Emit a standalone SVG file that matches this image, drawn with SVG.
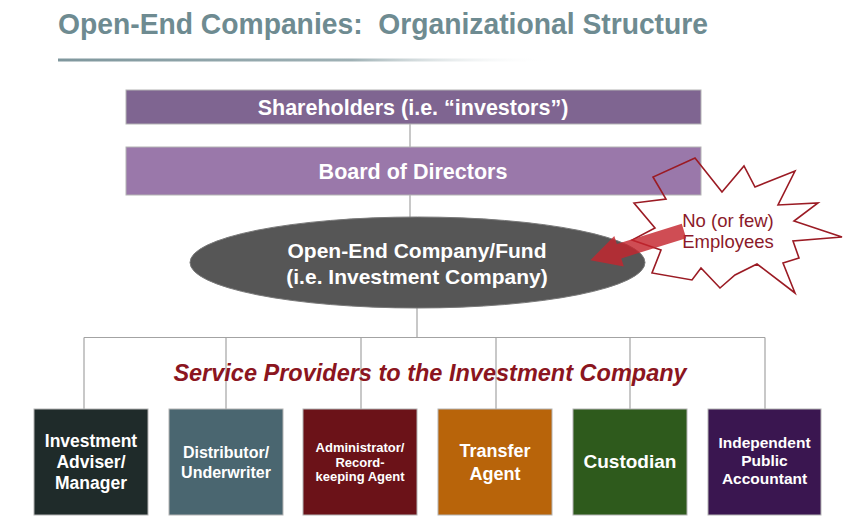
<svg xmlns="http://www.w3.org/2000/svg" width="848" height="529" viewBox="0 0 848 529">
<defs>
<linearGradient id="ul" x1="0" y1="0" x2="1" y2="0">
<stop offset="0" stop-color="#7f979d"/>
<stop offset="0.6" stop-color="#9fb1b5"/>
<stop offset="1" stop-color="#ffffff" stop-opacity="0"/>
</linearGradient>
<style>
text{font-family:"Liberation Sans",Arial,sans-serif;font-weight:bold;text-anchor:middle}
.w{fill:#ffffff}
.conn line{stroke:#a3a3a3;stroke-width:1.2}
.box{stroke:#b4b4b4;stroke-width:1}
.call{fill:#8b1a2a;font-weight:normal}
</style>
</defs>
<rect width="848" height="529" fill="#ffffff"/>
<g id="title">
<text x="58" y="34" style="text-anchor:start" font-size="30" fill="#6e8b91" textLength="650" lengthAdjust="spacingAndGlyphs">Open-End Companies:&#160; Organizational Structure</text>
<rect x="58" y="58.5" width="490" height="3" fill="url(#ul)"/>
</g>
<g class="conn" id="connectors">
<line x1="410" y1="124" x2="410" y2="147"/>
<line x1="410" y1="195" x2="410" y2="218"/>
<line x1="417" y1="308" x2="417" y2="337.5"/>
<line x1="84" y1="337.5" x2="765" y2="337.5"/>
<line x1="84" y1="337.5" x2="84" y2="409"/>
<line x1="226" y1="337.5" x2="226" y2="409"/>
<line x1="361" y1="337.5" x2="361" y2="409"/>
<line x1="496" y1="337.5" x2="496" y2="409"/>
<line x1="630" y1="337.5" x2="630" y2="409"/>
<line x1="765" y1="337.5" x2="765" y2="409"/>
</g>
<g id="shareholders">
<rect class="box" x="126" y="90" width="575" height="34" fill="#7f6591"/>
<text class="w" x="413" y="114.5" font-size="21.5">Shareholders (i.e. “investors”)</text>
</g>
<g id="board">
<rect class="box" x="126" y="147" width="575" height="48" fill="#9a78aa"/>
<text class="w" x="413" y="178.5" font-size="21.5">Board of Directors</text>
</g>
<g id="fund">
<ellipse cx="417.5" cy="262.5" rx="227.5" ry="45.5" fill="#565656" stroke="#7a7a7a" stroke-width="1"/>
<text class="w" x="417" y="258" font-size="21">Open-End Company/Fund</text>
<text class="w" x="417" y="284" font-size="21">(i.e. Investment Company)</text>
</g>
<g id="service-label">
<text x="430" y="381" font-size="23.5" font-style="italic" fill="#8b1520">Service Providers to the Investment Company</text>
</g>
<g id="adviser">
<rect class="box" x="34" y="409" width="114" height="106" fill="#1f2b2a"/>
<text class="w" x="91" y="447" font-size="17.5">Investment</text>
<text class="w" x="91" y="468" font-size="17.5">Adviser/</text>
<text class="w" x="91" y="489" font-size="17.5">Manager</text>
</g>
<g id="distributor">
<rect class="box" x="169" y="409" width="114" height="106" fill="#4a6670"/>
<text class="w" x="226" y="458" font-size="16">Distributor/</text>
<text class="w" x="226" y="478" font-size="16">Underwriter</text>
</g>
<g id="administrator">
<rect class="box" x="303" y="409" width="114" height="106" fill="#6b1218"/>
<text class="w" x="360" y="452" font-size="13">Administrator/</text>
<text class="w" x="360" y="466.5" font-size="13">Record-</text>
<text class="w" x="360" y="481" font-size="13">keeping Agent</text>
</g>
<g id="transfer">
<rect class="box" x="438" y="409" width="114" height="106" fill="#b8640a"/>
<text class="w" x="495" y="457" font-size="18">Transfer</text>
<text class="w" x="495" y="480" font-size="18">Agent</text>
</g>
<g id="custodian">
<rect class="box" x="573" y="409" width="114" height="106" fill="#2e5a1c"/>
<text class="w" x="630" y="468" font-size="19">Custodian</text>
</g>
<g id="accountant">
<rect class="box" x="708" y="409" width="113" height="106" fill="#3a1650"/>
<text class="w" x="764.5" y="448" font-size="15.5">Independent</text>
<text class="w" x="764.5" y="466" font-size="15.5">Public</text>
<text class="w" x="764.5" y="484" font-size="15.5">Accountant</text>
</g>
<g id="callout">
<path d="M695,158 L722,192 L744,166 L755,187 L795,171 L778,205 L818,203 L794,221 L842,237 L793,241 L799,258 L783,263 L795,293 L757,264 L735,275 L720,288 L701,268 L692,280 L652,273 L661,250 L632,240 L655,228 L634,203 L666,199 L653,177 Z" fill="none" stroke="#9b1b24" stroke-width="1.6" stroke-linejoin="miter"/>
<text class="call" x="728" y="227" font-size="18.5">No (or few)</text>
<text class="call" x="728" y="248" font-size="18.5">Employees</text>
<polygon transform="translate(684,231) rotate(162.7)" points="0,-7.5 68,-7.5 68,-16 98,0 68,16 68,7.5 0,7.5" fill="#c4262e" fill-opacity="0.82"/>
</g>
</svg>
